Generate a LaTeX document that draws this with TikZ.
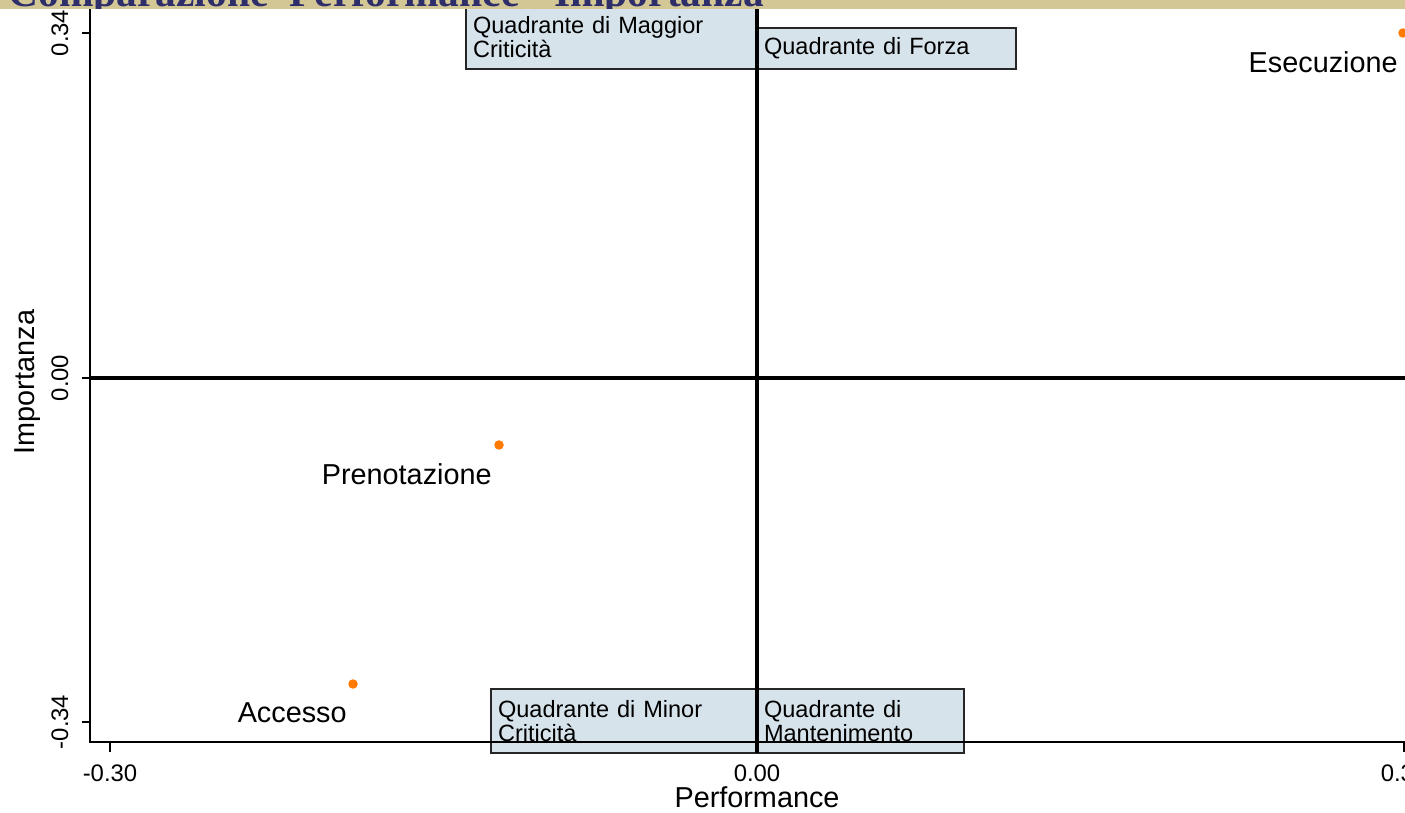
\documentclass[tikz,border=0pt]{standalone}
\usepackage{fontspec}
\setmainfont{Liberation Sans}
\newfontfamily\titlefont{Liberation Serif}
\definecolor{fascia}{HTML}{D2C795}
\definecolor{titolocol}{HTML}{2E2E6B}
\definecolor{quadfill}{HTML}{D7E3EA}
\definecolor{puntocol}{HTML}{FF7A00}

\begin{document}
\begin{tikzpicture}[
    x=0.02cm, y=-0.02cm,
	quad/.style={
	  rectangle,
	  draw=black!85,
	  line width=1pt,
	  fill=quadfill,
	  align=left,
	  inner xsep=0.14cm,
	  inner ysep=0pt,
	  minimum height=1.28cm,
	  font=\fontsize{13.4}{13.2}\selectfont
	},
	punto/.style={
	  circle,
	  fill=puntocol,
	  inner sep=0pt,
	  minimum size=0.19cm
	},
	etichetta/.style={
	  anchor=east,
	  inner sep=0pt,
	  font=\fontsize{16.4}{18}\selectfont
	},
	valore/.style={
	  inner sep=0pt,
	  font=\fontsize{13.6}{15}\selectfont
	},
	titolo/.style={
	  anchor=base west,
	  inner sep=0pt,
	  text=titolocol,
	  font=\titlefont\bfseries\fontsize{23.6}{26}\selectfont
	},
 	asse/.style={draw, line width=1.2pt},
 	croce/.style={draw, line width=2.1pt}
	]
	\clip (0, 0) rectangle (1405, 813);
	\path[fill=white] (0, 0) rectangle (1405, 813);
    \node at (611.5, 37) [quad, minimum width=5.82cm, text width=5.54cm] (maggior) {Quadrante di Maggior\\Criticità};
	\node at (886.5, 48.5) [quad, minimum width=5.18cm, minimum height=0.82cm, text width=4.9cm] (forza) {Quadrante di Forza};
	\node at (624, 721) [quad, minimum width=5.32cm, text width=5.04cm] (minor) {Quadrante di Minor\\Criticità};
	\node at (860.5, 721) [quad, minimum width=4.14cm, text width=3.86cm] (mantenimento) {Quadrante di\\Mantenimento};
	\coordinate (origine) at (90, 742);
	\coordinate (cima) at (90, 9);
	\coordinate (destra) at (1405, 742);
	\coordinate (crocealto) at (757, 9);
	\coordinate (crocebasso) at (757, 753);
	\coordinate (crocesx) at (90, 378);
	\coordinate (crocedx) at (1405, 378);
	\path[croce] (crocealto) -- (crocebasso);
	\path[croce] (crocesx) -- (crocedx);
	\path[asse] (cima) -- (origine) -- (destra);
	\foreach \y/\t [count=\i] in {33/0.34, 378/0.00, 722/-0.34} {
	  \path[asse] (82, \y) -- (90, \y);
	  \node at (60, \y) [valore, rotate=90] (yval\i) {\t};
	}
	\foreach \x/\t [count=\i] in {110/-0.30, 757/0.00, 1404/0.30} {
	  \path[asse] (\x, 742) -- (\x, 752);
	  \node at (\x, 773) [valore] (xval\i) {\t};
	}
	\node at (28, 382) [valore, rotate=90, font=\fontsize{16.4}{18}\selectfont] (asseimp) {Importanza};
	\node at (757, 797) [valore, font=\fontsize{16.4}{18}\selectfont] (asseperf) {Performance};
	\node at (1403, 33) [punto] (esecuzione) {};
	\node at (499, 445) [punto] (prenotazione) {};
	\node at (353, 684) [punto] (accesso) {};
	\node at (1398, 62) [etichetta] (labesecuzione) {Esecuzione};
	\node at (492, 474) [etichetta] (labprenotazione) {Prenotazione};
	\node at (347, 713) [etichetta] (labaccesso) {Accesso};
	\begin{scope}
	  \clip (0, 0) rectangle (1405, 9);
	  \path[fill=fascia] (0, 0) rectangle (1405, 9);
	  \node at (8, 7) [titolo] (titolopag) {Comparazione\ \ Performance - Importanza};
	\end{scope}
  \end{tikzpicture}
\end{document}
